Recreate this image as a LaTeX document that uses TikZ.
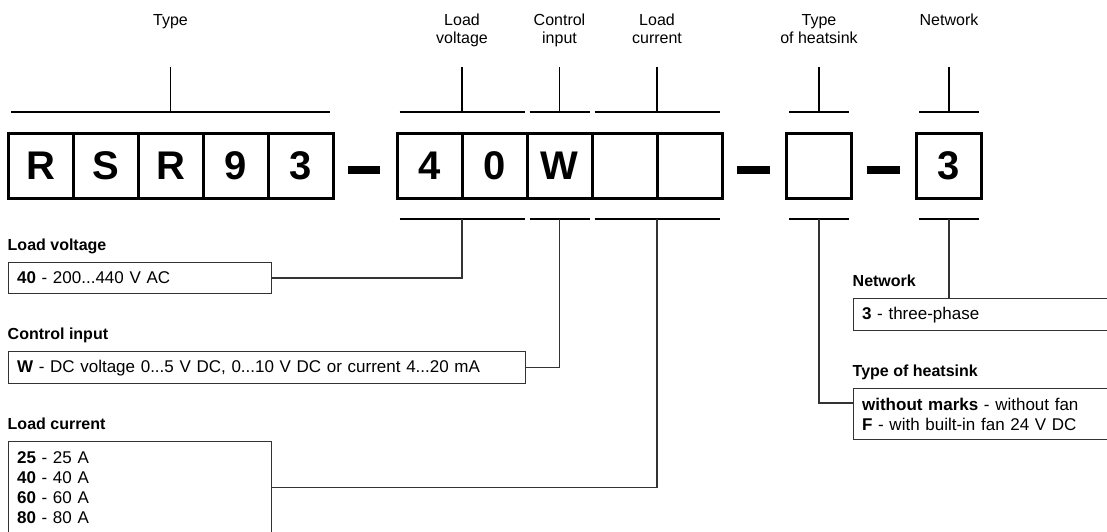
\documentclass[tikz,border=0pt]{standalone}
\usepackage{fontspec}
\setmainfont{Liberation Sans}
\usepackage{tikz}
\usetikzlibrary{calc,positioning}
\tikzset{
    bar/.style={draw, line width=2pt},
    tick/.style={draw, line width=1.6pt},
    lead/.style={draw=black!80, line width=1.3pt},
    minus/.style={draw, line width=8pt, shorten <=15pt, shorten >=17pt},
    font={\fontsize{16pt}{18pt}\selectfont},
}

\begin{document}
\begin{tikzpicture}
[
    x=1pt, y=-1pt,
    digit/.style={shape=rectangle, draw, line width=3pt, minimum size=65pt, inner sep=0pt, outer sep=0pt,
        font={\fontsize{40pt}{40pt}\selectfont\bfseries}},
    infobox/.style={shape=rectangle, draw=black!80, line width=1.2pt, anchor=north west, inner xsep=9pt,
        align=left, font={\fontsize{17pt}{19.7pt}\selectfont}},
    heading/.style={anchor=base west, inner sep=0pt, font={\fontsize{16pt}{18pt}\selectfont\bfseries}},
    caption/.style={anchor=north, align=center, inner sep=0pt},
]
\useasboundingbox (0,0) rectangle (1107,531);
\clip (0,0) rectangle (1107,531);

% code boxes
\node[digit] (r1) at (40.5,165.5) {R};
\node[digit, right=0pt of r1] (s1) {S};
\node[digit, right=0pt of s1] (r2) {R};
\node[digit, right=0pt of r2] (n9) {9};
\node[digit, right=0pt of n9] (n3) {3};
\node[digit] (v1) at (429.5,165.5) {4};
\node[digit, right=0pt of v1] (v2) {0};
\node[digit, right=0pt of v2] (w) {W};
\node[digit, right=0pt of w] (i1) {};
\node[digit, right=0pt of i1] (i2) {};
\node[digit] (hs) at (819,165.5) {};
\node[digit] (nw) at (949,165.5) {3};

\draw[minus] ([yshift=-4.5pt]n3.east) -- ([yshift=-4.5pt]v1.west);
\draw[minus] ([yshift=-4.5pt]i2.east) -- ([yshift=-4.5pt]hs.west);
\draw[minus] ([yshift=-4.5pt]hs.east) -- ([yshift=-4.5pt]nw.west);

% brackets above
\draw[bar] ([xshift=3pt,yshift=21pt]r1.north west) coordinate (tyL) -- ([xshift=-3pt,yshift=21pt]n3.north east) coordinate (tyR);
\draw[bar] ([xshift=2.5pt,yshift=21pt]v1.north west) coordinate (lvL) -- ([xshift=-2.5pt,yshift=21pt]v2.north east) coordinate (lvR);
\draw[bar] ([xshift=2.5pt,yshift=21pt]w.north west) coordinate (ciL) -- ([xshift=-2.5pt,yshift=21pt]w.north east) coordinate (ciR);
\draw[bar] ([xshift=2.5pt,yshift=21pt]i1.north west) coordinate (lcL) -- ([xshift=-2.5pt,yshift=21pt]i2.north east) coordinate (lcR);
\draw[bar] ([xshift=2.5pt,yshift=21pt]hs.north west) coordinate (tkL) -- ([xshift=-2.5pt,yshift=21pt]hs.north east) coordinate (tkR);
\draw[bar] ([xshift=2.5pt,yshift=21pt]nw.north west) coordinate (ntL) -- ([xshift=-2.5pt,yshift=21pt]nw.north east) coordinate (ntR);

\coordinate (tyM) at ($(tyL)!0.5!(tyR)$);
\coordinate (lvM) at ($(lvL)!0.5!(lvR)$);
\coordinate (ciM) at ($(ciL)!0.5!(ciR)$);
\coordinate (lcM) at ($(lcL)!0.5!(lcR)$);
\coordinate (tkM) at ($(tkL)!0.5!(tkR)$);
\coordinate (ntM) at ($(ntL)!0.5!(ntR)$);

\node[caption] (tyC) at (tyM |- 0,14) {Type};
\node[caption] (lvC) at (lvM |- 0,14) {Load\\voltage};
\node[caption] (ciC) at (ciM |- 0,14) {Control\\input};
\node[caption] (lcC) at (lcM |- 0,14) {Load\\current};
\node[caption] (tkC) at (tkM |- 0,14) {Type\\of heatsink};
\node[caption] (ntC) at (ntM |- 0,14) {Network};

\draw[tick] (tyM |- 0,67) -- (tyM);
\draw[tick] (lvM |- 0,67) -- (lvM);
\draw[tick] (ciM |- 0,67) -- (ciM);
\draw[tick] (lcM |- 0,67) -- (lcM);
\draw[tick] (tkM |- 0,67) -- (tkM);
\draw[tick] (ntM |- 0,67) -- (ntM);

% brackets below
\draw[bar] ([xshift=2.5pt,yshift=-21pt]v1.south west) coordinate (lvBL) -- ([xshift=-2.5pt,yshift=-21pt]v2.south east) coordinate (lvBR);
\draw[bar] ([xshift=2.5pt,yshift=-21pt]w.south west) coordinate (ciBL) -- ([xshift=-2.5pt,yshift=-21pt]w.south east) coordinate (ciBR);
\draw[bar] ([xshift=2.5pt,yshift=-21pt]i1.south west) coordinate (lcBL) -- ([xshift=-2.5pt,yshift=-21pt]i2.south east) coordinate (lcBR);
\draw[bar] ([xshift=2.5pt,yshift=-21pt]hs.south west) coordinate (tkBL) -- ([xshift=-2.5pt,yshift=-21pt]hs.south east) coordinate (tkBR);
\draw[bar] ([xshift=2.5pt,yshift=-21pt]nw.south west) coordinate (ntBL) -- ([xshift=-2.5pt,yshift=-21pt]nw.south east) coordinate (ntBR);

\coordinate (lvB) at ($(lvBL)!0.5!(lvBR)$);
\coordinate (ciB) at ($(ciBL)!0.5!(ciBR)$);
\coordinate (lcB) at ($(lcBL)!0.5!(lcBR)$);
\coordinate (tkB) at ($(tkBL)!0.5!(tkBR)$);
\coordinate (ntB) at ($(ntBL)!0.5!(ntBR)$);

% explanations
\node[infobox, minimum height=31pt, text width=245pt] (lvbox) at (7.5,262) {\textbf{40} - 200...440 V AC};
\node[infobox, minimum height=32pt, text width=499pt] (cibox) at (7.5,351) {\textbf{W} - DC voltage 0...5 V DC, 0...10 V DC or current 4...20 mA};
\node[infobox, minimum height=92pt, text width=245pt] (lcbox) at (7.5,441) {\textbf{25} - 25 A\\\textbf{40} - 40 A\\\textbf{60} - 60 A\\\textbf{80} - 80 A};
\node[infobox, minimum height=32pt, text width=246pt] (ntbox) at (852.5,298) {\textbf{3} - three-phase};
\node[infobox, minimum height=51pt, text width=246pt] (tkbox) at (852.5,388) {\textbf{without marks} - without fan\\\textbf{F} - with built-in fan 24 V DC};

\node[heading] (lvT) at ([yshift=11.5pt]lvbox.north west) {Load voltage};
\node[heading] (ciT) at ([yshift=11.5pt]cibox.north west) {Control input};
\node[heading] (lcT) at ([yshift=11.5pt]lcbox.north west) {Load current};
\node[heading] (ntT) at ([yshift=11.5pt]ntbox.north west) {Network};
\node[heading] (tkT) at ([yshift=11.5pt]tkbox.north west) {Type of heatsink};

\coordinate (tkIn) at ([yshift=-15pt]tkbox.north west);
\draw[lead] (lvB) |- (lvbox.east);
\draw[lead] (ciB) |- (cibox.east);
\draw[lead] (lcB) |- (lcbox.east);
\draw[lead] (tkB) |- (tkIn);
\draw[lead] (ntB) -- (ntB |- ntbox.north);
\end{tikzpicture}
\end{document}
